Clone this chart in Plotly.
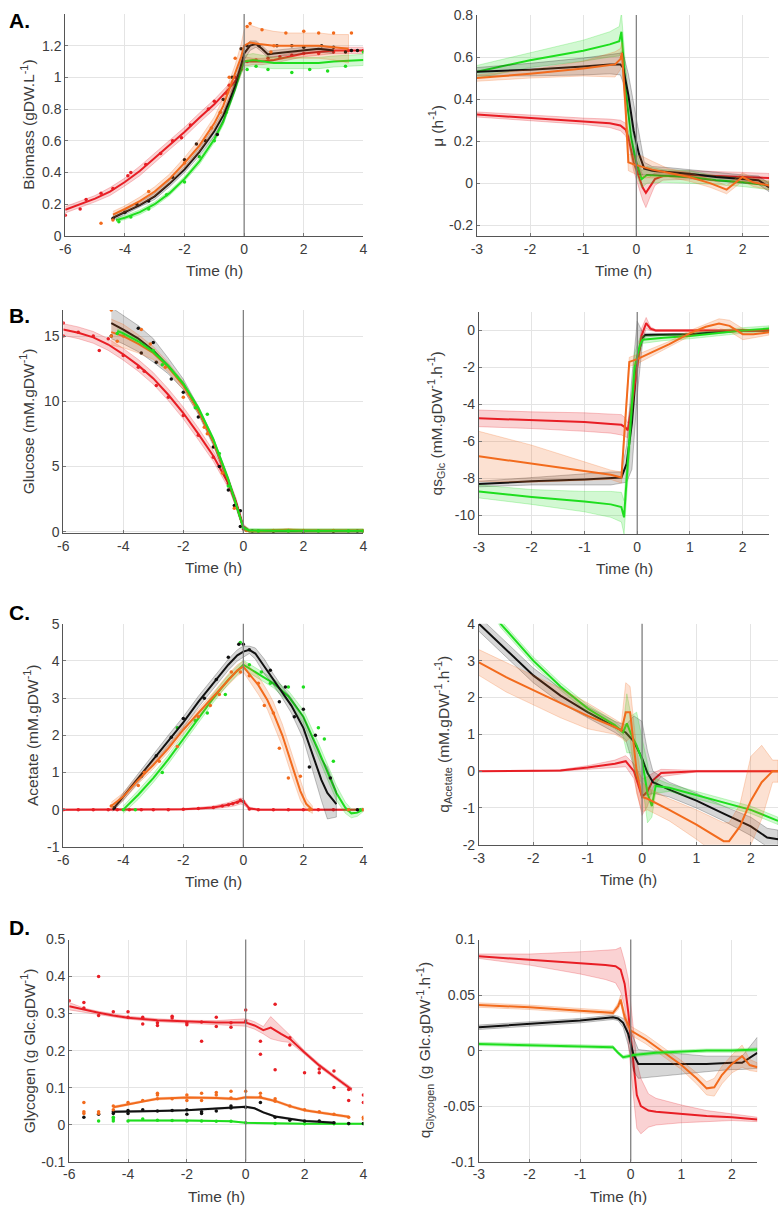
import plotly.graph_objects as go

# ---------------- colours ----------------
RED = (232, 30, 37)
ORG = (242, 107, 29)
GRN = (30, 222, 30)
BLK = (17, 17, 17)

# ================= Panel A left : Biomass =================
A_red_t = [-6, -5.5, -5, -4.5, -4, -3.5, -3, -2.5, -2, -1.5, -1, -0.5, -0.2, 0, 0.3, 0.6, 1, 1.5, 2, 2.5, 3, 3.5, 4]
A_red_y = [0.165, 0.2, 0.235, 0.28, 0.34, 0.41, 0.49, 0.575, 0.655, 0.745, 0.83, 0.93, 1.0, 1.1, 1.1, 1.1, 1.11, 1.13, 1.15, 1.16, 1.17, 1.17, 1.17]
A_red_e = [0.02, 0.02, 0.02, 0.025, 0.025, 0.03, 0.03, 0.03, 0.03, 0.03, 0.03, 0.03, 0.03, 0.03, 0.02, 0.02, 0.02, 0.02, 0.02, 0.02, 0.02, 0.02, 0.02]
A_blk_t = [-4.4, -4, -3.5, -3, -2.5, -2, -1.5, -1, -0.7, -0.5, -0.3, -0.1, 0, 0.2, 0.4, 0.6, 0.8, 1, 1.5, 2, 2.5, 3]
A_blk_y = [0.115, 0.15, 0.195, 0.25, 0.33, 0.42, 0.53, 0.66, 0.76, 0.85, 0.95, 1.08, 1.15, 1.2, 1.21, 1.18, 1.145, 1.15, 1.16, 1.17, 1.18, 1.17]
A_blk_e = [0.015, 0.015, 0.015, 0.02, 0.02, 0.02, 0.025, 0.03, 0.03, 0.03, 0.035, 0.04, 0.04, 0.03, 0.02, 0.02, 0.02, 0.02, 0.02, 0.02, 0.02, 0.02]
A_org_t = [-4.4, -4, -3.5, -3, -2.5, -2, -1.5, -1, -0.7, -0.5, -0.3, -0.1, 0, 0.2, 0.5, 1, 1.5, 2, 2.5, 3, 3.5]
A_org_y = [0.135, 0.17, 0.22, 0.28, 0.36, 0.46, 0.57, 0.71, 0.82, 0.92, 1.02, 1.13, 1.2, 1.22, 1.21, 1.2, 1.2, 1.2, 1.2, 1.19, 1.18]
A_org_e = [0.02, 0.02, 0.025, 0.03, 0.03, 0.035, 0.04, 0.04, 0.05, 0.05, 0.06, 0.08, 0.1, 0.11, 0.1, 0.09, 0.08, 0.08, 0.08, 0.08, 0.09]
A_grn_t = [-4.3, -4, -3.5, -3, -2.5, -2, -1.5, -1, -0.7, -0.5, -0.3, -0.1, 0, 0.3, 0.6, 1, 1.5, 2, 2.5, 3, 3.5, 4]
A_grn_y = [0.1, 0.115, 0.15, 0.2, 0.27, 0.36, 0.47, 0.61, 0.72, 0.82, 0.93, 1.05, 1.1, 1.11, 1.1, 1.09, 1.09, 1.09, 1.09, 1.1, 1.105, 1.11]
A_grn_e = [0.01, 0.012, 0.015, 0.015, 0.015, 0.015, 0.02, 0.02, 0.02, 0.02, 0.02, 0.03, 0.04, 0.04, 0.04, 0.035, 0.035, 0.035, 0.035, 0.035, 0.035, 0.035]
A_red_dt = [-6, -5.5, -5.3, -4.8, -4.4, -3.9, -3.8, -3.3, -2.8, -2.4, -2.1, -1.8, -1.2, -1.0, -0.6, -0.5, -0.3, -0.1, 0.1, 0.4, 0.8, 1.2, 1.6, 2.0, 2.5, 3.0, 3.5, 4.0]
A_red_dy = [0.13, 0.17, 0.23, 0.27, 0.3, 0.38, 0.4, 0.45, 0.52, 0.6, 0.62, 0.7, 0.8, 0.85, 0.9, 0.95, 1.0, 1.05, 1.1, 1.11, 1.12, 1.13, 1.14, 1.15, 1.15, 1.16, 1.17, 1.17]
A_blk_dt = [-4.4, -4, -3.6, -3.2, -2.4, -2, -1.6, -1.3, -0.9, -0.7, -0.4, -0.1, 0.1, 0.5, 1.1, 1.6, 2.0, 2.6, 3.0, 3.4, 3.6, 3.8]
A_blk_dy = [0.11, 0.15, 0.2, 0.22, 0.37, 0.48, 0.58, 0.6, 0.64, 0.86, 1.0, 1.18, 1.2, 1.2, 1.2, 1.2, 1.19, 1.2, 1.19, 1.16, 1.17, 1.17]
A_org_dt = [-4.8, -4.4, -3.2, -2, -1.1, -0.8, -0.5, -0.3, 0.1, 0.2, 0.6, 0.9, 1.0, 1.4, 2.0, 2.5, 3.0, 3.6]
A_org_dy = [0.08, 0.1, 0.28, 0.46, 0.68, 0.78, 1.0, 1.12, 1.32, 1.34, 1.3, 1.16, 1.2, 1.28, 1.29, 1.28, 1.28, 1.28]
A_grn_dt = [-4.2, -3.8, -3.2, -2.6, -2, -1.5, -1, -0.6, -0.3, 0.1, 0.4, 0.8, 1.6, 2.2, 2.8, 3.4, 4.0]
A_grn_dy = [0.09, 0.12, 0.17, 0.26, 0.34, 0.5, 0.6, 0.78, 0.95, 1.05, 1.07, 1.05, 1.03, 1.05, 1.04, 1.07, 1.16]

# ================= Panel A right : mu =================
Ar_red_t = [-3, -2, -1, -0.5, -0.3, -0.2, -0.15, -0.05, 0.05, 0.12, 0.18, 0.25, 0.35, 0.5, 1, 1.5, 2, 2.5]
Ar_red_y = [0.327, 0.31, 0.295, 0.285, 0.275, 0.255, 0.22, 0.1, 0.03, -0.02, -0.045, -0.02, 0.02, 0.035, 0.04, 0.035, 0.03, 0.025]
Ar_red_e = [0.012, 0.013, 0.015, 0.02, 0.025, 0.03, 0.03, 0.04, 0.05, 0.06, 0.07, 0.05, 0.03, 0.02, 0.02, 0.022, 0.022, 0.022]
Ar_blk_t = [-3, -2, -1, -0.5, -0.3, -0.25, -0.15, -0.05, 0.05, 0.15, 0.3, 0.6, 1, 1.5, 2, 2.3, 2.5]
Ar_blk_y = [0.53, 0.54, 0.555, 0.565, 0.565, 0.55, 0.42, 0.25, 0.14, 0.07, 0.06, 0.055, 0.045, 0.03, 0.02, 0.015, -0.02]
Ar_blk_e = [0.02, 0.03, 0.04, 0.045, 0.05, 0.07, 0.1, 0.12, 0.1, 0.03, 0.02, 0.02, 0.02, 0.02, 0.02, 0.02, 0.02]
Ar_org_t = [-3, -2, -1, -0.4, -0.3, -0.27, -0.2, -0.15, -0.05, 0.1, 0.3, 0.6, 1, 1.4, 1.7, 1.85, 2.0, 2.2, 2.5]
Ar_org_y = [0.5, 0.52, 0.545, 0.565, 0.59, 0.62, 0.35, 0.1, 0.09, 0.08, 0.065, 0.05, 0.03, 0.0, -0.03, 0.0, 0.03, 0.005, -0.01]
Ar_org_e = [0.015, 0.02, 0.035, 0.06, 0.05, 0.05, 0.06, 0.04, 0.04, 0.05, 0.04, 0.02, 0.02, 0.02, 0.02, 0.02, 0.02, 0.02, 0.02]
Ar_grn_t = [-3, -2, -1, -0.5, -0.32, -0.28, -0.2, -0.1, 0.0, 0.1, 0.2, 0.5, 1, 1.5, 2, 2.5]
Ar_grn_y = [0.53, 0.585, 0.63, 0.66, 0.675, 0.72, 0.45, 0.22, 0.1, 0.02, 0.04, 0.035, 0.03, 0.015, 0.005, -0.01]
Ar_grn_e = [0.03, 0.035, 0.05, 0.06, 0.07, 0.09, 0.1, 0.08, 0.06, 0.04, 0.04, 0.03, 0.03, 0.02, 0.02, 0.02]

# ================= Panel B left : Glucose =================
B_red_t = [-6, -5.5, -5, -4.5, -4, -3.5, -3, -2.5, -2, -1.5, -1, -0.5, -0.25, 0, 0.2, 0.5, 1, 2, 3, 4]
B_red_y = [15.5, 15.25, 14.9, 14.35, 13.6, 12.75, 11.75, 10.5, 9.1, 7.5, 5.8, 3.7, 2.3, 0.4, 0.05, 0.05, 0.05, 0.05, 0.05, 0.05]
B_red_e = [0.45, 0.45, 0.45, 0.45, 0.45, 0.45, 0.45, 0.45, 0.45, 0.45, 0.4, 0.35, 0.3, 0.2, 0.1, 0.1, 0.1, 0.1, 0.1, 0.1]
B_blk_t = [-4.4, -4, -3.5, -3, -2.5, -2, -1.5, -1, -0.5, -0.25, 0, 0.2, 0.5, 1, 2, 3, 4]
B_blk_y = [16.0, 15.5, 14.8, 13.9, 12.7, 11.3, 9.3, 6.9, 3.9, 2.2, 0.3, 0.05, 0.05, 0.05, 0.05, 0.05, 0.05]
B_blk_e = [1.2, 1.1, 1.0, 0.9, 0.6, 0.4, 0.3, 0.3, 0.3, 0.3, 0.2, 0.1, 0.1, 0.1, 0.1, 0.1, 0.1]
B_org_t = [-4.4, -4, -3.5, -3, -2.5, -2, -1.5, -1, -0.5, -0.25, 0, 0.2, 0.5, 1, 1.5, 2, 3, 4]
B_org_y = [15.3, 15.0, 14.4, 13.7, 12.6, 11.2, 9.3, 6.9, 3.9, 2.2, 0.3, 0.05, 0.05, 0.1, 0.15, 0.1, 0.1, 0.1]
B_org_e = [1.0, 0.9, 0.7, 0.5, 0.35, 0.3, 0.25, 0.2, 0.2, 0.2, 0.15, 0.1, 0.1, 0.1, 0.1, 0.1, 0.1, 0.1]
B_grn_t = [-4.2, -4, -3.5, -3, -2.5, -2, -1.5, -1, -0.5, -0.25, 0, 0.2, 0.5, 1, 2, 3, 4]
B_grn_y = [15.4, 15.2, 14.6, 13.8, 12.7, 11.35, 9.5, 7.1, 4.0, 2.2, 0.3, 0.1, 0.08, 0.07, 0.07, 0.07, 0.08]
B_grn_e = [0.15] * 17
B_red_dt = [-6, -6, -5.5, -5.0, -4.8, -4.5, -4, -3.5, -3.3, -2.9, -2.5, -2.0, -1.5, -1.0, -0.5, 0, 0.5, 1.0, 1.5, 2.0, 2.5, 3, 3.5, 4]
B_red_dy = [16.0, 15.0, 15.3, 15.0, 13.9, 14.8, 13.5, 12.6, 12.3, 11.2, 10.3, 8.9, 7.4, 5.7, 3.7, 0.2, 0.05, 0.05, 0.05, 0.05, 0.05, 0.05, 0.05, 0.05]
B_blk_dt = [-4.4, -3.5, -3.4, -3, -2.9, -2.4, -2, -1.5, -1.0, -0.8, -0.5, -0.3, -0.1, -0.1, 0.3, 1, 2, 3, 3.8]
B_blk_dy = [15.0, 15.6, 13.7, 14.5, 13.0, 11.7, 10.7, 8.8, 6.5, 5.0, 3.2, 2.0, 1.6, 0.4, 0.05, 0.05, 0.05, 0.05, 0.05]
B_org_dt = [-4.4, -4.4, -4.2, -4.0, -3.4, -3.1, -2.6, -2.0, -1.8, -1.3, -1.2, -0.7, -0.3, 0.1, 0.5, 1, 1.5, 2, 3, 4]
B_org_dy = [17.0, 15.0, 14.6, 15.0, 15.5, 14.4, 12.6, 10.3, 10.5, 8.0, 7.5, 4.5, 1.8, 0.1, 0.05, 0.1, 0.1, 0.1, 0.1, 0.1]
B_grn_dt = [-4.2, -3, -2.7, -1.6, -1.2, -0.8, -0.5, 0, 0.5, 1.5, 2.5, 3.5, 4]
B_grn_dy = [15.2, 13.9, 12.8, 9.5, 9.0, 6.0, 3.5, 0.3, 0.05, 0.05, 0.05, 0.05, 0.05]

# ================= Panel B right : qsGlc =================
Br_red_t = [-3, -2, -1, -0.5, -0.3, -0.22, -0.18, -0.1, 0.0, 0.08, 0.17, 0.25, 0.35, 0.6, 1, 1.5, 2, 2.5]
Br_red_y = [-4.75, -4.85, -4.95, -5.05, -5.1, -5.25, -5.4, -4.0, -2.0, -0.3, 0.4, 0.1, 0.0, 0.0, 0.0, 0.0, 0.0, 0.0]
Br_red_e = [0.45, 0.45, 0.5, 0.5, 0.55, 0.5, 0.4, 0.5, 0.5, 0.4, 0.3, 0.1, 0.05, 0.05, 0.05, 0.05, 0.05, 0.05]
Br_org_t = [-3, -2, -1, -0.5, -0.3, -0.25, -0.15, 0, 0.3, 0.6, 1.0, 1.3, 1.55, 1.75, 2.0, 2.2, 2.5]
Br_org_y = [-6.8, -7.2, -7.6, -7.8, -7.95, -6.0, -1.7, -1.55, -1.15, -0.75, -0.15, 0.2, 0.38, 0.25, -0.2, -0.2, -0.1]
Br_org_e = [1.35, 1.0, 0.5, 0.25, 0.3, 0.5, 0.25, 0.25, 0.2, 0.15, 0.15, 0.15, 0.25, 0.3, 0.3, 0.2, 0.15]
Br_blk_t = [-3, -2, -1, -0.5, -0.3, -0.2, -0.1, 0, 0.1, 0.15, 0.5, 1, 1.5, 2, 2.5]
Br_blk_y = [-8.3, -8.15, -8.05, -8.0, -7.95, -7.2, -5.0, -1.5, -0.4, -0.25, -0.22, -0.2, -0.1, 0.0, 0.0]
Br_blk_e = [0.15, 0.2, 0.3, 0.35, 0.3, 1.0, 2.5, 2.0, 0.3, 0.1, 0.05, 0.05, 0.05, 0.05, 0.05]
Br_grn_t = [-3, -2, -1, -0.5, -0.3, -0.25, -0.15, -0.05, 0.05, 0.1, 0.5, 1, 1.5, 2, 2.5]
Br_grn_y = [-8.7, -9.0, -9.25, -9.4, -9.55, -10.1, -6.0, -2.0, -0.8, -0.5, -0.4, -0.3, -0.15, 0.0, 0.1]
Br_grn_e = [0.35, 0.4, 0.55, 0.7, 0.8, 0.9, 1.0, 0.8, 0.4, 0.2, 0.15, 0.15, 0.15, 0.15, 0.15]

# ================= Panel C left : Acetate =================
C_red_t = [-6, -5, -4, -3, -2, -1.5, -1, -0.5, -0.3, -0.1, 0, 0.2, 0.5, 1, 2, 3, 4]
C_red_y = [0, 0, 0, 0, 0.01, 0.03, 0.06, 0.13, 0.18, 0.23, 0.22, 0.03, 0.0, 0, 0, 0, 0]
C_red_e = [0.02, 0.02, 0.02, 0.02, 0.02, 0.03, 0.04, 0.06, 0.08, 0.08, 0.08, 0.04, 0.02, 0.02, 0.02, 0.02, 0.02]
C_blk_t = [-4.35, -4, -3.5, -3, -2.5, -2, -1.5, -1, -0.5, -0.2, 0, 0.2, 0.4, 0.7, 1, 1.3, 1.6, 2, 2.3, 2.6, 2.8, 3.1]
C_blk_y = [0.0, 0.35, 0.85, 1.35, 1.85, 2.35, 2.9, 3.4, 3.9, 4.15, 4.25, 4.3, 4.2, 3.85, 3.5, 3.15, 2.8, 2.2, 1.5, 0.8, 0.45, 0.15]
C_blk_e = [0.05, 0.1, 0.12, 0.15, 0.15, 0.15, 0.15, 0.15, 0.15, 0.15, 0.15, 0.1, 0.15, 0.2, 0.15, 0.15, 0.2, 0.3, 0.4, 0.55, 0.7, 0.35]
C_org_t = [-4.4, -4, -3.5, -3, -2.5, -2, -1.5, -1, -0.5, -0.2, 0, 0.2, 0.5, 0.8, 1.0, 1.3, 1.6, 1.9, 2.1, 2.3]
C_org_y = [0.1, 0.35, 0.8, 1.2, 1.65, 2.15, 2.6, 3.05, 3.5, 3.75, 3.85, 3.65, 3.35, 2.95, 2.6, 2.0, 1.25, 0.5, 0.15, 0.0]
C_org_e = [0.1, 0.1, 0.1, 0.1, 0.1, 0.1, 0.1, 0.1, 0.15, 0.15, 0.15, 0.2, 0.25, 0.25, 0.3, 0.3, 0.3, 0.25, 0.15, 0.1]
C_grn_t = [-4.0, -3.5, -3, -2.5, -2, -1.5, -1, -0.5, -0.2, 0, 0.3, 0.6, 1, 1.5, 2, 2.5, 2.8, 3.1, 3.4, 3.6, 3.8, 4.0]
C_grn_y = [0.0, 0.4, 0.85, 1.35, 1.9, 2.45, 3.0, 3.5, 3.75, 3.9, 3.75, 3.6, 3.4, 3.05, 2.5, 1.6, 1.0, 0.45, 0.05, -0.1, -0.08, 0.0]
C_grn_e = [0.1, 0.12, 0.12, 0.12, 0.12, 0.12, 0.12, 0.12, 0.12, 0.12, 0.12, 0.12, 0.12, 0.15, 0.18, 0.2, 0.2, 0.2, 0.15, 0.12, 0.1, 0.05]
C_red_dt = [-6, -5.5, -5, -4.5, -4.2, -3.8, -3.4, -3.0, -2.5, -2.0, -1.5, -1.0, -0.7, -0.5, -0.35, -0.2, -0.1, 0, 0.2, 0.5, 1, 1.5, 2, 2.5, 3, 3.5, 4]
C_red_dy = [0, 0, 0, 0, 0, 0, 0, 0, 0, 0.01, 0.03, 0.06, 0.1, 0.13, 0.16, 0.2, 0.25, 0.22, 0.02, 0, 0, 0, 0, 0, 0, 0, 0]
C_blk_dt = [-4.3, -3.4, -2.9, -2.4, -2.0, -1.3, -0.9, -0.5, -0.15, 0.0, 0.2, 0.9, 1.2, 1.4, 1.7, 2.0, 2.2, 2.4, 2.9, 3.8]
C_blk_dy = [0.05, 0.9, 1.45, 1.95, 2.45, 3.0, 3.5, 4.1, 4.45, 4.45, 4.3, 3.75, 2.9, 3.3, 2.5, 2.7, 1.15, 2.0, 0.85, 0.0]
C_org_dt = [-4.4, -3.5, -3.3, -2.8, -2.2, -1.5, -1.1, -0.8, -0.4, -0.1, 0.2, 0.5, 0.7, 1.0, 1.2, 1.5, 1.9, 2.2, 3.5, 4]
C_org_dy = [0.1, 0.65, 1.0, 1.3, 1.7, 2.5, 2.8, 3.1, 3.7, 3.7, 3.6, 3.4, 2.8, 2.6, 1.65, 0.85, 0.9, 0.0, 0.0, 0.0]
C_grn_dt = [-4, -3.6, -2.7, -2.2, -1.6, -1.2, -0.6, -0.1, 0.2, 0.6, 0.9, 1.5, 2.0, 2.5, 2.7, 3.0, 3.5, 3.9]
C_grn_dy = [0, 0.0, 1.0, 2.2, 2.4, 2.6, 3.1, 4.5, 3.9, 3.7, 3.4, 3.3, 3.3, 2.2, 1.9, 1.3, 0.0, 0.0]

# ================= Panel C right : qAcetate =================
Cr_blk_t = [-3, -2.5, -2, -1.5, -1, -0.5, -0.3, -0.15, 0, 0.1, 0.2, 0.5, 1, 1.5, 2, 2.3, 2.5]
Cr_blk_y = [4.0, 3.3, 2.6, 2.05, 1.6, 1.2, 1.05, 0.8, 0.35, -0.05, -0.3, -0.5, -0.8, -1.15, -1.5, -1.8, -1.85]
Cr_blk_e = [0.2, 0.2, 0.2, 0.2, 0.15, 0.15, 0.2, 0.7, 1.0, 0.6, 0.3, 0.2, 0.2, 0.2, 0.25, 0.25, 0.25]
Cr_grn_t = [-3, -2.6, -2, -1.5, -1, -0.5, -0.35, -0.28, -0.2, -0.1, 0, 0.1, 0.18, 0.25, 0.5, 1, 1.5, 2, 2.5]
Cr_grn_y = [5.0, 4.0, 3.0, 2.3, 1.7, 1.25, 1.05, 1.3, 1.0, 0.7, 0.3, -0.6, -0.95, -0.4, -0.45, -0.65, -0.85, -1.05, -1.35]
Cr_grn_e = [0.1, 0.1, 0.1, 0.1, 0.1, 0.1, 0.1, 0.8, 0.5, 0.9, 0.6, 0.8, 0.3, 0.2, 0.1, 0.1, 0.1, 0.1, 0.1]
Cr_org_t = [-3, -2.5, -2, -1.5, -1, -0.5, -0.38, -0.3, -0.22, -0.1, 0, 0.1, 0.5, 1, 1.5, 1.6, 1.8, 2.0, 2.2, 2.4, 2.5]
Cr_org_y = [2.95, 2.55, 2.2, 1.85, 1.5, 1.2, 1.1, 1.6, 1.6, 0.0, -0.7, -0.75, -1.05, -1.45, -1.9, -1.9, -1.5, -0.8, -0.3, 0.0, 0.0]
Cr_org_e = [0.35, 0.4, 0.4, 0.4, 0.35, 0.2, 0.2, 0.8, 0.7, 0.6, 0.4, 0.3, 0.3, 0.4, 0.5, 0.5, 0.6, 1.2, 1.0, 0.3, 0.3]
Cr_red_t = [-3, -2, -1.5, -1, -0.5, -0.3, -0.15, 0, 0.1, 0.2, 0.35, 1, 2, 2.5]
Cr_red_y = [0, 0, 0.02, 0.1, 0.2, 0.27, 0.0, -0.7, -0.55, -0.25, -0.05, 0, 0, 0]
Cr_red_e = [0.01, 0.01, 0.02, 0.05, 0.1, 0.15, 0.2, 0.5, 0.4, 0.2, 0.1, 0.02, 0.02, 0.02]

# ================= Panel D left : Glycogen =================
D_red_t = [-6, -5.5, -5, -4.5, -4, -3, -2, -1, 0, 0.3, 0.6, 0.85, 1.2, 1.5, 2, 2.5, 3, 3.6]
D_red_y = [0.32, 0.31, 0.302, 0.295, 0.289, 0.282, 0.278, 0.276, 0.276, 0.268, 0.255, 0.262, 0.245, 0.232, 0.195, 0.16, 0.13, 0.095]
D_red_e = [0.01, 0.005, 0.004, 0.004, 0.004, 0.004, 0.004, 0.005, 0.01, 0.01, 0.01, 0.03, 0.02, 0.01, 0.005, 0.005, 0.005, 0.005]
D_org_t = [-4.5, -4, -3.5, -3, -2, -1, -0.3, 0, 0.5, 1, 1.5, 2, 2.5, 3, 3.5]
D_org_y = [0.047, 0.055, 0.064, 0.07, 0.073, 0.072, 0.069, 0.074, 0.073, 0.064, 0.05, 0.039, 0.033, 0.028, 0.021]
D_org_e = [0.003] * 15
D_blk_t = [-4.5, -4, -3, -2, -1, 0, 0.3, 0.6, 1, 1.5, 2, 2.5, 3]
D_blk_y = [0.035, 0.035, 0.037, 0.039, 0.043, 0.048, 0.044, 0.033, 0.022, 0.015, 0.01, 0.008, 0.005]
D_blk_e = [0.002] * 13
D_grn_t = [-4, -3, -2, -1, -0.5, 0, 1, 2, 3, 4]
D_grn_y = [0.011, 0.012, 0.011, 0.01, 0.009, 0.005, 0.003, 0.002, 0.002, 0.002]
D_grn_e = [0.0015] * 10
D_red_dt = [-6, -5.5, -5.5, -5, -5, -4.5, -4, -4, -3.5, -3.5, -3, -3, -2.5, -2.5, -2, -2, -1.5, -1.5, -1, -1, -0.5, -0.5, 0, 0, 0.5, 0.5, 1, 1, 1.5, 1.5, 2, 2.5, 2.5, 3, 3, 3.5, 3.5, 4, 4]
D_red_dy = [0.335, 0.33, 0.315, 0.4, 0.295, 0.305, 0.305, 0.29, 0.29, 0.272, 0.275, 0.268, 0.293, 0.288, 0.275, 0.27, 0.225, 0.277, 0.29, 0.265, 0.275, 0.263, 0.31, 0.28, 0.225, 0.19, 0.325, 0.148, 0.215, 0.235, 0.14, 0.15, 0.14, 0.145, 0.1, 0.095, 0.065, 0.08, 0.06]
D_org_dt = [-5.5, -5.5, -5.5, -5, -5, -4.5, -4.5, -4, -3.5, -3, -3, -3, -2.5, -2, -2, -1.5, -1.5, -1, -1, -0.5, -0.5, 0, 0.5, 0.5, 1, 1, 1.5, 2, 2.5, 3, 3.5, 4, 4]
D_org_dy = [0.06, 0.035, 0.03, 0.03, 0.035, 0.05, 0.04, 0.06, 0.065, 0.085, 0.08, 0.07, 0.07, 0.08, 0.065, 0.085, 0.065, 0.087, 0.08, 0.09, 0.072, 0.09, 0.085, 0.075, 0.07, 0.063, 0.05, 0.04, 0.035, 0.028, 0.02, 0.02, 0.015]
D_blk_dt = [-5.5, -5, -4.5, -4.5, -4, -4, -3.5, -3, -2.5, -2, -2, -1.5, -1.5, -1, -0.5, -0.5, 0, 0.5, 1, 1.5, 2, 2.5, 3, 3.5, 4]
D_blk_dy = [0.02, 0.028, 0.035, 0.03, 0.038, 0.03, 0.04, 0.037, 0.038, 0.028, 0.04, 0.03, 0.035, 0.037, 0.05, 0.045, 0.047, 0.06, 0.02, 0.012, 0.01, 0.01, 0.005, 0.003, 0.003]
D_grn_dt = [-5, -4.5, -4.5, -4.5, -4, -3.5, -3, -2.5, -2, -1.5, -1, -0.5, 0, 1, 2, 3, 3.5, 4]
D_grn_dy = [0.01, 0.02, 0.015, 0.01, 0.01, 0.015, 0.012, 0.011, 0.01, 0.01, 0.009, 0.009, 0.005, 0.003, 0.002, 0.002, 0.002, 0.002]

# ================= Panel D right : qGlycogen =================
Dr_red_t = [-3, -2, -1, -0.5, -0.3, -0.2, -0.12, -0.05, 0.05, 0.12, 0.2, 0.35, 0.5, 1, 1.5, 2, 2.5]
Dr_red_y = [0.085, 0.082, 0.079, 0.077, 0.076, 0.073, 0.06, 0.035, -0.01, -0.04, -0.05, -0.054, -0.055, -0.057, -0.059, -0.06, -0.062]
Dr_red_e = [0.002, 0.005, 0.01, 0.013, 0.015, 0.02, 0.02, 0.03, 0.03, 0.03, 0.025, 0.015, 0.012, 0.008, 0.005, 0.003, 0.002]
Dr_org_t = [-3, -2, -1, -0.35, -0.25, -0.2, -0.12, 0, 0.3, 0.6, 1, 1.3, 1.5, 1.65, 1.8, 2.0, 2.2, 2.35, 2.5]
Dr_org_y = [0.041, 0.039, 0.036, 0.034, 0.04, 0.046, 0.03, 0.018, 0.01, 0.0, -0.013, -0.025, -0.034, -0.033, -0.022, -0.012, -0.005, -0.013, -0.015]
Dr_org_e = [0.002, 0.002, 0.002, 0.002, 0.003, 0.004, 0.004, 0.004, 0.004, 0.004, 0.004, 0.005, 0.006, 0.008, 0.008, 0.008, 0.01, 0.005, 0.004]
Dr_blk_t = [-3, -2, -1, -0.35, -0.25, -0.15, -0.05, 0.05, 0.15, 0.5, 1, 1.5, 2, 2.2, 2.5]
Dr_blk_y = [0.021, 0.024, 0.027, 0.03, 0.029, 0.025, 0.015, -0.003, -0.012, -0.012, -0.012, -0.012, -0.011, -0.011, -0.002]
Dr_blk_e = [0.002, 0.002, 0.002, 0.002, 0.002, 0.004, 0.01, 0.015, 0.013, 0.011, 0.009, 0.007, 0.006, 0.006, 0.014]
Dr_grn_t = [-3, -2, -1, -0.35, -0.25, -0.15, -0.05, 0.05, 0.5, 1, 1.5, 2, 2.5]
Dr_grn_y = [0.006, 0.005, 0.004, 0.003, -0.002, -0.006, -0.005, -0.004, -0.002, -0.001, 0.0, 0.0, 0.001]
Dr_grn_e = [0.0015] * 13

# ---------------- tick labels ----------------
X_LEFT_TICKS = [-6, -4, -2, 0, 2, 4]
X_RIGHT_TICKS = [-3, -2, -1, 0, 1, 2]
Y_TICKS = {
    1: [0, 0.2, 0.4, 0.6, 0.8, 1, 1.2],
    2: [-0.2, 0, 0.2, 0.4, 0.6, 0.8],
    3: [0, 5, 10, 15],
    4: [-10, -8, -6, -4, -2, 0],
    5: [-1, 0, 1, 2, 3, 4, 5],
    6: [-2, -1, 0, 1, 2, 3, 4],
    7: [-0.1, 0, 0.1, 0.2, 0.3, 0.4, 0.5],
    8: [-0.1, -0.05, 0, 0.05, 0.1],
}
Y_TITLES = {
    1: "Biomass (gDW.L<sup>-1</sup>)",
    2: "μ (h<sup>-1</sup>)",
    3: "Glucose (mM.gDW<sup>-1</sup>)",
    4: "qs<sub>Glc</sub> (mM.gDW<sup>-1</sup>.h<sup>-1</sup>)",
    5: "Acetate (mM.gDW<sup>-1</sup>)",
    6: "q<sub>Acetate</sub> (mM.gDW<sup>-1</sup>.h<sup>-1</sup>)",
    7: "Glycogen (g Glc.gDW<sup>-1</sup>)",
    8: "q<sub>Glycogen</sub> (g Glc.gDW<sup>-1</sup>.h<sup>-1</sup>)",
}
PANEL_LETTERS = ["A.", "B.", "C.", "D."]

# ---------------- layout geometry (pixels) ----------------
W, H = 784, 1216
# (x0, x1, y_top, y_bottom)
BOX = {
    1: (60, 362, 6, 231), 2: (477, 773, 7, 231),
    3: (58, 362, 306, 532), 4: (479, 773, 308, 533),
    5: (58, 362, 624, 850), 6: (479, 782, 624, 848),
    7: (64, 362, 944, 1169), 8: (479, 761, 944, 1169),
}
YRANGE = {1: [0, 1.4], 2: [-0.25, 0.8], 3: [-0.1, 17], 4: [-11, 1],
          5: [-1, 5], 6: [-2, 4], 7: [-0.1, 0.5], 8: [-0.1, 0.1]}
YTITLE_X = {1: 22, 2: 436, 3: 22, 4: 436, 5: 26, 6: 443, 7: 22, 8: 424}
LETTER_Y = [13, 312, 613, 932]

fig = go.Figure()


def rgba(c, a):
    return f"rgba({c[0]},{c[1]},{c[2]},{a})"


def fmt(v):
    return f"{v:g}"


def add(ax, t, y, e, col, dt=None, dy=None):
    xa = "x" if ax == 1 else f"x{ax}"
    ya = "y" if ax == 1 else f"y{ax}"
    up = [a + b for a, b in zip(y, e)]
    lo = [a - b for a, b in zip(y, e)]
    fig.add_trace(go.Scatter(x=list(t) + list(t)[::-1], y=up + lo[::-1], mode="lines",
                             fill="toself", fillcolor=rgba(col, 0.2 if col != BLK else 0.17),
                             line=dict(width=0.7, color=rgba(col, 0.35)),
                             xaxis=xa, yaxis=ya, hoverinfo="skip", showlegend=False))
    fig.add_trace(go.Scatter(x=t, y=y, mode="lines", line=dict(width=2, color=rgba(col, 1)),
                             xaxis=xa, yaxis=ya, showlegend=False))
    if dt is not None:
        fig.add_trace(go.Scatter(x=dt, y=dy, mode="markers",
                                 marker=dict(size=3.5, color=rgba(col, 1)),
                                 xaxis=xa, yaxis=ya, showlegend=False, cliponaxis=True))


# Panel A
add(1, A_red_t, A_red_y, A_red_e, RED, A_red_dt, A_red_dy)
add(1, A_grn_t, A_grn_y, A_grn_e, GRN, A_grn_dt, A_grn_dy)
add(1, A_blk_t, A_blk_y, A_blk_e, BLK, A_blk_dt, A_blk_dy)
add(1, A_org_t, A_org_y, A_org_e, ORG, A_org_dt, A_org_dy)
add(2, Ar_red_t, Ar_red_y, Ar_red_e, RED)
add(2, Ar_grn_t, Ar_grn_y, Ar_grn_e, GRN)
add(2, Ar_blk_t, Ar_blk_y, Ar_blk_e, BLK)
add(2, Ar_org_t, Ar_org_y, Ar_org_e, ORG)
# Panel B
add(3, B_red_t, B_red_y, B_red_e, RED, B_red_dt, B_red_dy)
add(3, B_blk_t, B_blk_y, B_blk_e, BLK, B_blk_dt, B_blk_dy)
add(3, B_org_t, B_org_y, B_org_e, ORG, B_org_dt, B_org_dy)
add(3, B_grn_t, B_grn_y, B_grn_e, GRN, B_grn_dt, B_grn_dy)
add(4, Br_blk_t, Br_blk_y, Br_blk_e, BLK)
add(4, Br_red_t, Br_red_y, Br_red_e, RED)
add(4, Br_grn_t, Br_grn_y, Br_grn_e, GRN)
add(4, Br_org_t, Br_org_y, Br_org_e, ORG)
# Panel C
add(5, C_red_t, C_red_y, C_red_e, RED, C_red_dt, C_red_dy)
add(5, C_grn_t, C_grn_y, C_grn_e, GRN, C_grn_dt, C_grn_dy)
add(5, C_blk_t, C_blk_y, C_blk_e, BLK, C_blk_dt, C_blk_dy)
add(5, C_org_t, C_org_y, C_org_e, ORG, C_org_dt, C_org_dy)
add(6, Cr_red_t, Cr_red_y, Cr_red_e, RED)
add(6, Cr_blk_t, Cr_blk_y, Cr_blk_e, BLK)
add(6, Cr_grn_t, Cr_grn_y, Cr_grn_e, GRN)
add(6, Cr_org_t, Cr_org_y, Cr_org_e, ORG)
# Panel D
add(7, D_red_t, D_red_y, D_red_e, RED, D_red_dt, D_red_dy)
add(7, D_grn_t, D_grn_y, D_grn_e, GRN, D_grn_dt, D_grn_dy)
add(7, D_blk_t, D_blk_y, D_blk_e, BLK, D_blk_dt, D_blk_dy)
add(7, D_org_t, D_org_y, D_org_e, ORG, D_org_dt, D_org_dy)
add(8, Dr_red_t, Dr_red_y, Dr_red_e, RED)
add(8, Dr_blk_t, Dr_blk_y, Dr_blk_e, BLK)
add(8, Dr_org_t, Dr_org_y, Dr_org_e, ORG)
add(8, Dr_grn_t, Dr_grn_y, Dr_grn_e, GRN)

FONT = "Liberation Sans, Arial, sans-serif"
TICKC = "#3c3c3c"
layout = dict(width=W, height=H, margin=dict(l=0, r=0, t=0, b=0),
              paper_bgcolor="white", plot_bgcolor="white",
              font=dict(family=FONT, color=TICKC, size=14), showlegend=False)
annotations = []
shapes = []
for ax in range(1, 9):
    x0, x1, yt, yb = BOX[ax]
    left = ax % 2 == 1
    xr = [-6, 4] if left else [-3, 2.5]
    xt = X_LEFT_TICKS if left else X_RIGHT_TICKS
    key = "" if ax == 1 else str(ax)
    layout["xaxis" + key] = dict(
        domain=[x0 / W, x1 / W], range=xr, anchor="y" + key,
        tickvals=xt, ticktext=[fmt(v) for v in xt], showgrid=True, gridcolor="#e4e4e4",
        gridwidth=1, zeroline=False, showline=True, linecolor="#555", linewidth=1,
        ticks="inside", ticklen=3, tickcolor="#777",
        tickfont=dict(size=14, color=TICKC, family=FONT), fixedrange=True)
    layout["yaxis" + key] = dict(
        domain=[1 - yb / H, 1 - yt / H], range=YRANGE[ax], anchor="x" + key,
        tickvals=Y_TICKS[ax], ticktext=[fmt(v) for v in Y_TICKS[ax]], showgrid=True,
        gridcolor="#e4e4e4", gridwidth=1, zeroline=False, showline=True, linecolor="#555",
        linewidth=1, ticks="inside", ticklen=3, tickcolor="#777",
        tickfont=dict(size=14, color=TICKC, family=FONT), fixedrange=True)
    # vertical line at t = 0
    shapes.append(dict(type="line", xref="x" + key, yref="y" + key + " domain", x0=0, x1=0,
                       y0=0, y1=1, line=dict(color="#7a7a7a", width=1.2), layer="above"))
    annotations.append(dict(text="Time (h)", x=(x0 + x1) / 2 / W, y=1 - (yb + 35) / H,
                            xref="paper", yref="paper", showarrow=False,
                            font=dict(size=15.5, color=TICKC, family=FONT),
                            xanchor="center", yanchor="middle"))
    annotations.append(dict(text=Y_TITLES[ax], x=YTITLE_X[ax] / W, y=1 - (yt + yb) / 2 / H,
                            xref="paper", yref="paper", showarrow=False, textangle=-90,
                            font=dict(size=15.5, color=TICKC, family=FONT),
                            xanchor="center", yanchor="middle"))
for i, letter in enumerate(PANEL_LETTERS):
    annotations.append(dict(text="<b>" + letter + "</b>", x=1 / W, y=1 - LETTER_Y[i] / H,
                            xref="paper", yref="paper", showarrow=False,
                            font=dict(size=21, color="black", family=FONT),
                            xanchor="left", yanchor="middle"))
layout["annotations"] = annotations
layout["shapes"] = shapes
fig.update_layout(**layout)
fig.write_html("out.html", config={"displayModeBar": False, "staticPlot": True},
               post_script="document.body.style.margin='0';document.body.style.overflow='hidden';")
